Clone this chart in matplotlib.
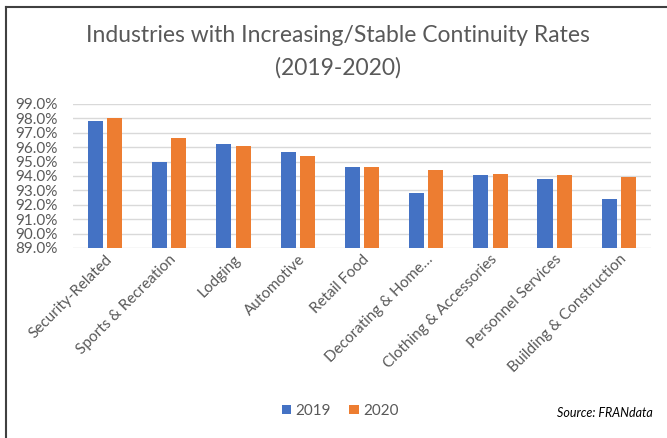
import matplotlib.pyplot as plt
import numpy as np
from matplotlib.ticker import FuncFormatter

# Continuity rates by industry (percent)
industrias = ["Security-Related", "Sports & Recreation", "Lodging", "Automotive",
              "Retail Food", "Decorating & Home…", "Clothing & Accessories",
              "Personnel Services", "Building & Construction"]
tasa_2019 = [97.8, 95.0, 96.25, 95.7, 94.65, 92.85, 94.1, 93.8, 92.4]
tasa_2020 = [98.05, 96.65, 96.05, 95.4, 94.65, 94.45, 94.15, 94.1, 93.95]

plt.rcParams['font.family'] = ['Lato', 'DejaVu Sans']
gris = "#595959"

fig = plt.figure(figsize=(6.67, 4.38), dpi=100)
ax = fig.add_axes([0.1094, 0.4338, 0.8666, 0.3288])

x = np.arange(len(industrias))
ancho = 0.235
ax.bar(x - 0.15, tasa_2019, ancho, color="#4472C4", label="2019", zorder=3)
ax.bar(x + 0.15, tasa_2020, ancho, color="#ED7D31", label="2020", zorder=3)

ax.set_ylim(89, 99)
ax.set_xlim(-0.5, len(industrias) - 0.5)
ax.set_yticks(np.arange(89, 99.5, 1))
ax.yaxis.set_major_formatter(FuncFormatter(lambda v, p: f"{v:.1f}%"))
ax.grid(axis="y", color="#D9D9D9", linewidth=1, zorder=0)
for s in ax.spines.values():
    s.set_visible(False)
ax.tick_params(length=0, labelcolor=gris)
ax.tick_params(axis="y", labelsize=11, pad=11)
ax.tick_params(axis="x", labelsize=11, pad=3)
ax.set_xticks(x)
ax.set_xticklabels(industrias, rotation=45, ha="right", rotation_mode="anchor")

fig.text(0.506, 0.882, "Industries with Increasing/Stable Continuity Rates\n(2019-2020)",
         ha="center", va="center", fontsize=16.5, color=gris, linespacing=1.6)

ax.legend(loc="center", bbox_to_anchor=(0.51, 0.062), bbox_transform=fig.transFigure,
          ncol=2, frameon=False, fontsize=11, labelcolor=gris, handlelength=0.6,
          handleheight=0.6, handletextpad=0.3, columnspacing=1.2)

fig.text(0.978, 0.058, "Source: FRANdata", ha="right", va="center", fontsize=9,
         style="italic", color="#000000")

# marco superior e izquierdo
fig.add_artist(plt.Line2D([0.009, 1], [0.985, 0.985], color="#404040", linewidth=1.5))
fig.add_artist(plt.Line2D([0.009, 0.009], [0, 0.985], color="#404040", linewidth=1.5))

plt.savefig("out.png")
